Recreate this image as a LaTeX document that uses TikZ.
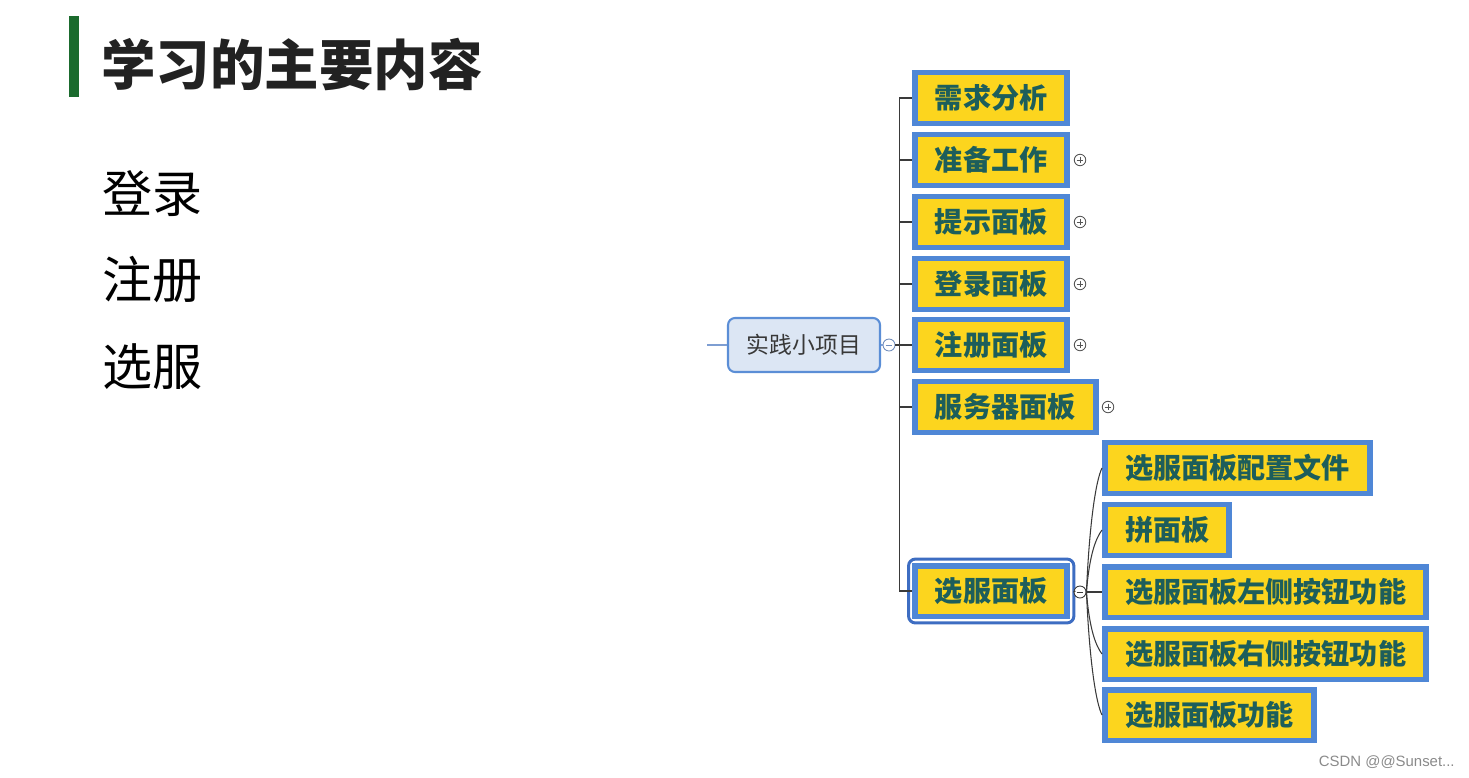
\documentclass[tikz,border=0pt]{standalone}
\usepackage{fontspec}
\usetikzlibrary{positioning,fit,calc}
\newfontfamily\cjk{Noto Sans CJK SC}
\newfontfamily\wmfont{Liberation Sans}
\definecolor{ink}{HTML}{222222}
\definecolor{bar}{HTML}{1B6B2E}
\definecolor{boxblue}{HTML}{4F87D6}
\definecolor{ringblue}{HTML}{3D6DC2}
\definecolor{boxyellow}{HTML}{FCD51E}
\definecolor{boxtext}{HTML}{1D5E5B}
\definecolor{rootfill}{HTML}{DCE6F4}
\definecolor{rootline}{HTML}{5B8ED6}
\definecolor{lead}{HTML}{7E9ED2}
\definecolor{trunkgray}{HTML}{3A3A3A}
\definecolor{knob}{HTML}{555555}
\definecolor{wm}{HTML}{8A8A8A}
\tikzset{
  topic/.style={
    draw=boxblue, fill=boxyellow, line width=3.4pt,
    text=boxtext, font=\cjk\bfseries\fontsize{16}{18}\selectfont,
    inner xsep=0.40cm, inner ysep=0pt, minimum height=1.02cm, anchor=west
  },
  rootbox/.style={
    draw=rootline, fill=rootfill, line width=1.2pt, rounded corners=4pt,
    text=ink!90, font=\cjk\fontsize{13}{15}\selectfont,
    minimum width=3.04cm, minimum height=1.08cm
  },
  item/.style={anchor=west, inner sep=0pt, text=black, font=\cjk\fontsize{28.5}{32}\selectfont},
  trunk/.style={draw=trunkgray, line width=0.85pt},
  twig/.style={draw=trunkgray, line width=0.6pt},
  knobbase/.style={circle, fill=white, inner sep=0pt, minimum size=0.23cm, line width=0.5pt},
  expander/.style={knobbase, draw=knob,
    path picture={\draw[knob, line width=0.5pt]
      ([xshift=1.3pt]path picture bounding box.west) -- ([xshift=-1.3pt]path picture bounding box.east)
      ([yshift=-1.3pt]path picture bounding box.north) -- ([yshift=1.3pt]path picture bounding box.south);}},
  collapser/.style={knobbase, minimum size=0.24cm,
    path picture={\draw[line width=0.5pt]
      ([xshift=1.5pt]path picture bounding box.west) -- ([xshift=-1.5pt]path picture bounding box.east);}}
}
\begin{document}
\begin{tikzpicture}[x=0.02cm, y=-0.02cm]
  \useasboundingbox (0,0) rectangle (1469,777);
  % heading
  \fill[bar] (69,16) rectangle (79,97);
  \node[anchor=west, inner sep=0pt, text=ink, font=\cjk\bfseries\fontsize{31}{34}\selectfont] (title) at (101,65) {学习的主要内容};
  \node[item] (i1) at (102,194) {登录};
  \node[item] (i2) at (102,280) {注册};
  \node[item] (i3) at (102,367) {选服};

  % map
  \node[rootbox] (root) at (804,345) {实践小项目};
  \coordinate (lead) at (707,345);
  \node[collapser, draw=lead!90!black, fill=white] (rootc) at (889,345) {};
  \node[topic] (req) at (912,98) {需求分析};
  \node[topic] (prep) at (912,160) {准备工作};
  \node[topic] (tip) at (912,222) {提示面板};
  \node[topic] (login) at (912,284) {登录面板};
  \node[topic] (reg) at (912,345) {注册面板};
  \node[topic] (srv) at (912,407) {服务器面板};
  \node[topic] (sel) at (912,591) {选服面板};
  \node[draw=ringblue, line width=1.7pt, rounded corners=4pt, inner sep=0.07cm, fit=(sel)] (selring) {};
  \node[topic] (s1) at (1102,468) {选服面板配置文件};
  \node[topic] (s2) at (1102,530) {拼面板};
  \node[topic] (s3) at (1102,592) {选服面板左侧按钮功能};
  \node[topic] (s4) at (1102,654) {选服面板右侧按钮功能};
  \node[topic] (s5) at (1102,715) {选服面板功能};
  \node[expander] (e1) at (1080,160) {};
  \node[expander] (e2) at (1080,222) {};
  \node[expander] (e3) at (1080,284) {};
  \node[expander] (e4) at (1080,345) {};
  \node[expander] (e5) at (1108,407) {};
  \node[collapser, draw=trunkgray] (selc) at (1080,592) {};

  \draw[lead, line width=0.85pt] (lead) -- (root.west);
  \draw[lead, line width=0.85pt] (root.east) -- (rootc.west);
  \foreach \t in {req,prep,tip,login,reg,srv,sel}
    \draw[trunk] (rootc.east) -- ++(4,0) |- (\t.west);
  \draw[twig] (selring.east) -- (selc.west);
  \draw[twig] (selc.east) .. controls +(3,-70) and +(-6,12) .. (s1.west);
  \draw[twig] (selc.east) .. controls +(3,-38) and +(-6,8) .. (s2.west);
  \draw[twig] (selc.east) -- (s3.west);
  \draw[twig] (selc.east) .. controls +(3,38) and +(-6,-8) .. (s4.west);
  \draw[twig] (selc.east) .. controls +(3,70) and +(-6,-12) .. (s5.west);

  \node[anchor=east, inner sep=0pt, text=wm, font=\wmfont\fontsize{8.5}{10}\selectfont] (mark) at (1455,762) {CSDN @@Sunset...};
\end{tikzpicture}
\end{document}
